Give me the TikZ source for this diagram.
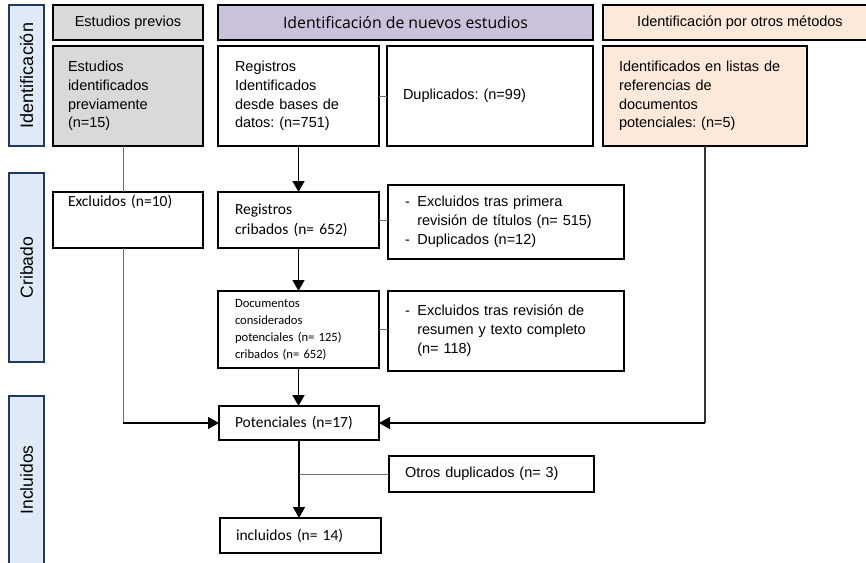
\documentclass[tikz,border=0pt]{standalone}
\usepackage{fontspec}
\setmainfont{Liberation Sans}
\newfontfamily\calfont{Carlito}
\newfontfamily\osfont{Open Sans}
\usetikzlibrary{arrows.meta,calc}
\definecolor{sidefill}{HTML}{DEEBF7}
\definecolor{sideline}{HTML}{1F3864}
\definecolor{grayfill}{HTML}{D9D9D9}
\definecolor{lavfill}{HTML}{CCC1DA}
\definecolor{peachfill}{HTML}{FDE9D9}
\definecolor{linkgray}{HTML}{707070}
\newcommand{\ar}{\fontsize{14.5}{18.8}\selectfont}
\newcommand{\cb}{\calfont\fontsize{15.5}{20}\selectfont}
\frenchspacing
\begin{document}
\begin{tikzpicture}[x=1pt,y=-1pt,
  box/.style={draw=black, line width=1.5pt, inner ysep=0pt, outer sep=0pt, align=left},
  hdr/.style={draw=black, line width=1.5pt, inner sep=0pt, outer sep=0pt, align=center},
  sidelab/.style={draw=sideline, fill=sidefill, line width=1.6pt, inner sep=0pt, outer sep=0pt},
  arrowline/.style={draw=black, line width=1.3pt, -{Triangle[length=11pt,width=12pt]}},
  plainline/.style={draw=black!80, line width=1.1pt},
  link/.style={draw=linkgray, line width=1pt}]
\useasboundingbox (0,0) rectangle (866,562);
\clip (0,0) rectangle (866,562);

% side labels
\node[sidelab, minimum width=35pt, minimum height=141pt] (s1) at (26.5,75.5) {};
\node[rotate=90, font=\fontsize{18}{20}\selectfont] (s1t) at (s1.center) {Identificación};
\node[sidelab, minimum width=35pt, minimum height=189pt] (s2) at (26.5,267.5) {};
\node[rotate=90, font=\fontsize{17.5}{20}\selectfont] (s2t) at (s2.center) {Cribado};
\node[sidelab, minimum width=35pt, minimum height=174pt] (s3) at (26.5,483) {};
\node[rotate=90, font=\fontsize{17.5}{20}\selectfont] (s3t) at (26.5,480) {Incluidos};

% headers
\node[hdr, fill=grayfill, minimum width=150pt, minimum height=35pt, font=\ar] (hA) at (128,22.5) {Estudios previos};
\node[hdr, fill=lavfill, minimum width=375pt, minimum height=35pt, font=\osfont\fontsize{15.8}{18}\selectfont] (hB) at (405.5,22.5) {Identificación de nuevos estudios};
\node[hdr, fill=peachfill, minimum width=274pt, minimum height=35pt, font=\ar] (hC) at (740,22.5) {Identificación por otros métodos};

% identification row
\node[box, fill=grayfill, text width=120pt, inner xsep=15pt, minimum height=100pt, font=\ar] (prev) at (128,96) {Estudios\\identificados\\previamente\\(n=15)};
\node[box, text width=127pt, inner xsep=17pt, minimum height=100pt, font=\ar] (reg) at (298.5,96) {Registros\\Identificados\\desde bases de\\datos: (n=751)};
\node[box, text width=174pt, inner xsep=16pt, minimum height=100pt, font=\ar] (dup) at (490,96) {Duplicados: (n=99)};
\node[box, fill=peachfill, text width=172pt, inner xsep=16pt, minimum height=100pt, font=\ar] (otros) at (705,96) {Identificados en listas de\\referencias de\\documentos\\potenciales: (n=5)};

% screening row
\node[box, fill=white, text width=120pt, inner xsep=15pt, text height=12pt, text depth=40pt, inner ysep=2pt, font=\cb] (excl10) at (128,220) {Excluidos (n=10)};
\node[box, text width=127pt, inner xsep=17pt, minimum height=56pt, font=\cb] (crib) at (298.5,220) {Registros\\cribados (n= 652)};
\node[box, text width=202pt, inner xsep=17pt, minimum height=74pt, font=\ar] (excl1) at (506,222)
  {\begin{tabular}{@{}l@{\hspace{7.5pt}}l@{}}-&Excluidos tras primera\\&revisión de títulos (n= 515)\\-&Duplicados (n=12)\end{tabular}};
\node[box, text width=127pt, inner xsep=17pt, minimum height=77pt, font=\calfont\fontsize{12.6}{17}\selectfont] (docs) at (298.5,329.5) {Documentos\\considerados\\potenciales (n= 125)\\cribados (n= 652)};
\node[box, text width=202pt, inner xsep=17pt, minimum height=80pt, font=\ar] (excl2) at (506,331)
  {\begin{tabular}{@{}l@{\hspace{7.5pt}}l@{}}-&Excluidos tras revisión de\\&resumen y texto completo\\&(n= 118)\end{tabular}};

% included row
\node[box, text width=128pt, inner xsep=16pt, minimum height=34pt, font=\cb] (pot) at (299,423) {Potenciales (n=17)};
\node[box, text width=173pt, inner xsep=16pt, minimum height=36pt, font=\ar] (odup) at (491.5,474) {Otros duplicados (n= 3)};
\node[box, text width=129pt, inner xsep=16pt, minimum height=35pt, font=\cb] (incl) at (300.5,535.5) {incluidos (n= 14)};

% connectors
\coordinate (L) at (123,0);
\coordinate (R) at (705,0);
\draw[link] (reg.east) -- (dup.west);
\draw[link] (crib.east) -- (crib.east -| excl1.west);
\draw[link] (docs.east) -- (docs.east -| excl2.west);
\draw[link] (prev.south -| L) -- (excl10.north -| L);
\draw[link] (excl10.south -| L) -- (L |- pot.west);
\draw[arrowline] (L |- pot.west) -- (pot.west);
\draw[plainline] (otros.south) -- (R |- pot.east);
\draw[arrowline] (R |- pot.east) -- (pot.east);
\draw[arrowline] (reg.south) -- (crib.north);
\draw[arrowline] (crib.south) -- (docs.north);
\draw[arrowline] (docs.south) -- (docs.south |- pot.north);
\draw[arrowline] (pot.south) -- (pot.south |- incl.north);
\draw[link] (odup.west) -- (pot.south |- odup.west);
\end{tikzpicture}
\end{document}
